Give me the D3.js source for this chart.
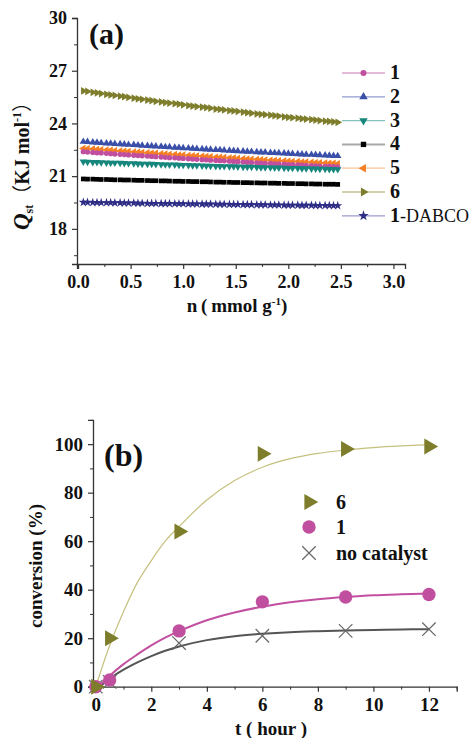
<!DOCTYPE html>
<html><head><meta charset="utf-8">
<script src="https://cdnjs.cloudflare.com/ajax/libs/d3/7.8.5/d3.min.js"></script>
<style>
html,body{margin:0;padding:0;background:#fff;}
svg, svg text{font-family:"Liberation Serif","DejaVu Serif","Times New Roman",Times,serif;}
</style></head>
<body><svg id="c" width="471" height="738"></svg>
<script>
// ---------- Panel (a) data ----------
const nValues = [0.05,0.09,0.14,0.18,0.22,0.27,0.31,0.35,0.40,0.44,0.48,0.53,0.57,0.61,0.66,0.70,0.74,0.79,0.83,0.87,0.92,0.96,1.00,1.05,1.09,1.13,1.18,1.22,1.26,1.31,1.35,1.39,1.44,1.48,1.52,1.57,1.61,1.65,1.70,1.74,1.78,1.83,1.87,1.91,1.96,2.00,2.04,2.09,2.13,2.17,2.22,2.26,2.30,2.35,2.39,2.43,2.47];
const qst1 = [22.39,22.37,22.35,22.33,22.32,22.30,22.28,22.26,22.24,22.23,22.21,22.19,22.17,22.16,22.14,22.12,22.11,22.09,22.07,22.05,22.04,22.02,22.01,21.99,21.97,21.96,21.94,21.93,21.91,21.89,21.88,21.87,21.85,21.84,21.82,21.80,21.79,21.77,21.76,21.74,21.73,21.72,21.70,21.69,21.68,21.66,21.65,21.64,21.62,21.61,21.60,21.58,21.57,21.56,21.55,21.54,21.52];
const qst2 = [22.96,22.95,22.92,22.91,22.89,22.87,22.86,22.84,22.82,22.81,22.79,22.78,22.76,22.74,22.72,22.71,22.70,22.68,22.66,22.65,22.63,22.62,22.60,22.59,22.57,22.56,22.54,22.53,22.51,22.50,22.49,22.47,22.45,22.44,22.43,22.41,22.40,22.39,22.37,22.36,22.35,22.33,22.32,22.31,22.30,22.28,22.27,22.26,22.24,22.23,22.22,22.21,22.20,22.18,22.17,22.16,22.15];
const qst3 = [21.82,21.81,21.80,21.79,21.78,21.77,21.76,21.76,21.75,21.74,21.73,21.72,21.71,21.70,21.69,21.69,21.68,21.67,21.66,21.65,21.65,21.64,21.63,21.62,21.61,21.61,21.60,21.59,21.58,21.57,21.57,21.56,21.55,21.55,21.54,21.53,21.52,21.52,21.51,21.50,21.50,21.49,21.48,21.48,21.47,21.46,21.46,21.45,21.44,21.44,21.43,21.42,21.41,21.41,21.40,21.40,21.39];
const qst4 = [20.84,20.83,20.83,20.82,20.81,20.81,20.80,20.79,20.79,20.78,20.78,20.77,20.76,20.76,20.75,20.74,20.74,20.73,20.73,20.72,20.71,20.71,20.70,20.70,20.69,20.69,20.68,20.68,20.67,20.66,20.66,20.65,20.65,20.64,20.64,20.63,20.63,20.62,20.62,20.61,20.61,20.60,20.60,20.59,20.59,20.58,20.58,20.57,20.57,20.56,20.56,20.55,20.55,20.54,20.54,20.54,20.53];
const qst5 = [22.58,22.56,22.54,22.52,22.51,22.49,22.47,22.45,22.43,22.42,22.40,22.38,22.36,22.35,22.33,22.31,22.30,22.28,22.26,22.24,22.23,22.21,22.20,22.18,22.16,22.15,22.13,22.12,22.10,22.08,22.07,22.06,22.04,22.03,22.01,21.99,21.98,21.96,21.95,21.93,21.92,21.91,21.89,21.88,21.87,21.85,21.84,21.83,21.81,21.80,21.79,21.77,21.76,21.75,21.74,21.73,21.71];
const qst6 = [25.85,25.82,25.77,25.74,25.70,25.66,25.62,25.59,25.55,25.52,25.48,25.44,25.40,25.37,25.33,25.30,25.26,25.22,25.19,25.16,25.13,25.10,25.06,25.02,24.99,24.96,24.93,24.90,24.87,24.82,24.80,24.77,24.73,24.71,24.68,24.65,24.61,24.58,24.55,24.52,24.50,24.47,24.44,24.42,24.38,24.35,24.33,24.30,24.27,24.25,24.22,24.19,24.16,24.13,24.11,24.09,24.06];
const qstDabco = [19.51,19.51,19.50,19.50,19.49,19.49,19.49,19.48,19.48,19.47,19.47,19.47,19.46,19.46,19.45,19.45,19.45,19.44,19.44,19.44,19.43,19.43,19.43,19.42,19.42,19.42,19.41,19.41,19.41,19.40,19.40,19.40,19.39,19.39,19.39,19.38,19.38,19.38,19.37,19.37,19.37,19.36,19.36,19.36,19.35,19.35,19.35,19.35,19.34,19.34,19.34,19.33,19.33,19.33,19.33,19.32,19.32];
const seriesNamesA = ["1","2","3","4","5","6","1-DABCO"];
const xTicksA = [0,0.5,1.0,1.5,2.0,2.5,3.0];
const yTicksA = [18,21,24,27,30];

// ---------- Panel (b) data ----------
const timeB = [0,0.5,3,6,9,12];
const conv6 = [0,20,64,96,98,99];
const conv1 = [0,2.8,23,35,37,38];
const convNone = [0,2,18,21,23,23.7];
const fitT6 = [0,0.5,1,1.5,2,2.5,3,4,5,6,7,8,9,10,11,12];
const fit6 = [0,17,31,43,52,60,66,77,85,90.5,94,96.2,97.6,98.6,99.3,99.8];
const fitT1 = [0.1,0.5,1,1.5,2,2.5,3,4,5,6,7,8,9,10,11,12];
const fit1 = [0,4.5,9.3,13.3,17,20.2,22.9,27.4,30.6,33.0,34.8,36.1,37.0,37.7,38.1,38.4];
const fitTNone = [0.15,0.5,1,1.5,2,2.5,3,4,5,6,7,8,9,10,11,12];
const fitNone = [0,3.3,7.0,10.0,12.6,14.8,16.6,19.2,20.8,21.8,22.5,22.9,23.2,23.4,23.6,23.7];
const seriesNamesB = ["6","1","no catalyst"];
const xTicksB = [0,2,4,6,8,10,12];
const yTicksB = [0,20,40,60,80,100];

const FONT = '"Liberation Serif","DejaVu Serif","Times New Roman",Times,serif';
const CJK = '"Noto Sans CJK SC","Liberation Serif",serif';
const svg = d3.select("#c");
const axisColor = "#333";

function styleAxis(g){
  g.selectAll("path.domain").attr("stroke",axisColor).attr("stroke-width",1.3);
  g.selectAll(".tick line").attr("stroke",axisColor).attr("stroke-width",1.2);
  g.selectAll(".tick text").attr("fill","#111").attr("font-weight","bold")
    .attr("font-family",FONT);
}
function txt(parent){
  return parent.append("text").attr("font-family",FONT).attr("fill","#111");
}

// ================= Panel (a) =================
const xA = d3.scaleLinear().domain([-0.01,3.11]).range([77,405]);
const yA = d3.scaleLinear().domain([16,30]).range([264,18]);

const gxA = svg.append("g").attr("transform","translate(0,264)")
  .call(d3.axisBottom(xA).tickValues(xTicksA).tickFormat(d3.format(".1f")).tickSizeOuter(0).tickSize(5).tickPadding(6));
gxA.call(styleAxis); gxA.selectAll(".tick text").attr("font-size",18);
svg.append("g").attr("transform","translate(0,264)")
  .call(d3.axisBottom(xA).tickValues(d3.range(0.25,3.1,0.5)).tickFormat("").tickSizeOuter(0).tickSize(3))
  .call(g=>{g.select(".domain").remove(); g.selectAll("line").attr("stroke",axisColor);});
const gyA = svg.append("g").attr("transform","translate(77,0)")
  .call(d3.axisLeft(yA).tickValues(yTicksA).tickSizeOuter(0).tickSize(5).tickPadding(5));
gyA.call(styleAxis); gyA.selectAll(".tick text").attr("font-size",18);
svg.append("g").attr("transform","translate(77,0)")
  .call(d3.axisLeft(yA).tickValues([16.5,19.5,22.5,25.5,28.5]).tickFormat("").tickSizeOuter(0).tickSize(3))
  .call(g=>{g.select(".domain").remove(); g.selectAll("line").attr("stroke",axisColor);});

const seriesA = [
  {name:seriesNamesA[0], vals:qst1, color:"#c0509f", line:"#dba6cc", shape:"circle", size:22},
  {name:seriesNamesA[1], vals:qst2, color:"#3a4fa8", line:"#8f9bd0", shape:"up", size:24},
  {name:seriesNamesA[2], vals:qst3, color:"#17877d", line:"#86c0ba", shape:"down", size:24},
  {name:seriesNamesA[3], vals:qst4, color:"#000000", line:"#a8a8a8", shape:"square", size:22},
  {name:seriesNamesA[4], vals:qst5, color:"#f57f22", line:"#f8c497", shape:"left", size:24},
  {name:seriesNamesA[5], vals:qst6, color:"#7d7d2b", line:"#c4c38e", shape:"right", size:26},
  {name:seriesNamesA[6], vals:qstDabco, color:"#2e2d86", line:"#9b9ad0", shape:"star", size:26}
];

function markerPath(shape,size){
  if(shape==="circle") return d3.symbol(d3.symbolCircle,size)();
  if(shape==="square") return d3.symbol(d3.symbolSquare,size)();
  if(shape==="star") return d3.symbol(d3.symbolStar,size)();
  return d3.symbol(d3.symbolTriangle,size)();
}
function rot(shape){
  return {up:0,down:180,left:-90,right:90}[shape]||0;
}

const plotOrder = [5,1,4,0,2,3,6];
plotOrder.forEach(i=>{
  const s = seriesA[i];
  const pts = nValues.map((n,j)=>[n,s.vals[j]]);
  svg.append("path").datum(pts)
    .attr("d",d3.line().x(d=>xA(d[0])).y(d=>yA(d[1])))
    .attr("fill","none").attr("stroke",s.line).attr("stroke-width",1);
  svg.append("g").selectAll("path").data(pts).join("path")
    .attr("d",markerPath(s.shape,s.size))
    .attr("transform",d=>`translate(${xA(d[0])},${yA(d[1])}) rotate(${rot(s.shape)})`)
    .attr("fill",s.color);
});

// legend (a)
const legA = svg.append("g");
seriesA.forEach((s,i)=>{
  const y = 73 + i*23.8;
  legA.append("line").attr("x1",342).attr("x2",385).attr("y1",y).attr("y2",y)
    .attr("stroke",s.line).attr("stroke-width",s.shape==="square"?2:1.3);
  legA.append("path").attr("d",markerPath(s.shape,s.size*1.3))
    .attr("transform",`translate(363.5,${y}) rotate(${rot(s.shape)})`).attr("fill",s.color);
  const t = txt(legA).attr("x",390).attr("y",y+6).attr("font-size",20);
  if(s.name.indexOf("-")>0){
    const parts = s.name.split("-");
    t.append("tspan").attr("font-weight","bold").text(parts[0]);
    t.append("tspan").attr("font-weight","normal").attr("font-size",18).text("-"+parts[1]);
  } else t.attr("font-weight","bold").text(s.name);
});

txt(svg).attr("x",89).attr("y",44).attr("font-size",30).attr("font-weight","bold").text("(a)");

// axis titles (a)
const xtA = txt(svg).attr("x",237).attr("y",312).attr("text-anchor","middle")
  .attr("font-size",19).attr("font-weight","bold");
xtA.append("tspan").text("n\u2009(\u2009mmol g");
xtA.append("tspan").attr("dy",-7).attr("font-size",11).text("-1");
xtA.append("tspan").attr("dy",7).text(")");

const ytA = txt(svg).attr("transform","translate(29,161) rotate(-90)").attr("text-anchor","middle")
  .attr("font-size",20).attr("font-weight","bold");
ytA.append("tspan").attr("font-style","italic").attr("font-size",23).text("Q");
ytA.append("tspan").attr("dy",4).attr("font-size",12).text("st");
ytA.append("tspan").attr("dy",-4).attr("font-family",CJK).attr("font-weight","normal").text("\uFF08");
ytA.append("tspan").text("KJ mol");
ytA.append("tspan").attr("dy",-8).attr("font-size",12).text("-1");
ytA.append("tspan").attr("dy",8).attr("font-family",CJK).attr("font-weight","normal").text("\uFF09");

// ================= Panel (b) =================
const xB = d3.scaleLinear().domain([-0.1,13]).range([93,456.7]);
const yB = d3.scaleLinear().domain([0,110]).range([686.7,419.9]);

const gxB = svg.append("g").attr("transform","translate(0,686.7)")
  .call(d3.axisBottom(xB).tickValues(xTicksB).tickFormat(d3.format("d")).tickSizeOuter(0).tickSize(5).tickPadding(6));
gxB.call(styleAxis); gxB.selectAll(".tick text").attr("font-size",19);
svg.append("g").attr("transform","translate(0,686.7)")
  .call(d3.axisBottom(xB).tickValues([1,3,5,7,9,11,13]).tickFormat("").tickSizeOuter(0).tickSize(3))
  .call(g=>{g.select(".domain").remove(); g.selectAll("line").attr("stroke",axisColor);});
const gyB = svg.append("g").attr("transform","translate(93,0)")
  .call(d3.axisLeft(yB).tickValues(yTicksB).tickSizeOuter(0).tickSize(5).tickPadding(5));
gyB.call(styleAxis); gyB.selectAll(".tick text").attr("font-size",19);
svg.append("g").attr("transform","translate(93,0)")
  .call(d3.axisLeft(yB).tickValues([10,30,50,70,90,110]).tickFormat("").tickSizeOuter(0).tickSize(3))
  .call(g=>{g.select(".domain").remove(); g.selectAll("line").attr("stroke",axisColor);});

const lineB = d3.line().x(d=>xB(d[0])).y(d=>yB(d[1])).curve(d3.curveCatmullRom.alpha(0.5));
svg.append("path").datum(fitT6.map((t,i)=>[t,fit6[i]])).attr("d",lineB)
  .attr("fill","none").attr("stroke","#c5c07e").attr("stroke-width",1.2);
svg.append("path").datum(fitTNone.map((t,i)=>[t,fitNone[i]])).attr("d",lineB)
  .attr("fill","none").attr("stroke","#555").attr("stroke-width",2);
svg.append("path").datum(fitT1.map((t,i)=>[t,fit1[i]])).attr("d",lineB)
  .attr("fill","none").attr("stroke","#c24fa0").attr("stroke-width",2);

const olive = "#7d7d2b", magenta="#c0509f", xgray="#666";
const triR = d3.symbol(d3.symbolTriangle,110)();
const circ = d3.symbol(d3.symbolCircle,140)();
const xMark = d3.symbol(d3.symbolTimes,120)();

svg.append("g").selectAll("path").data(timeB.map((t,i)=>[t,convNone[i]])).join("path")
  .attr("d",xMark).attr("transform",d=>`translate(${xB(d[0])},${yB(d[1])})`)
  .attr("fill","none").attr("stroke",xgray).attr("stroke-width",1.2);
svg.append("g").selectAll("path").data(timeB.map((t,i)=>[t,conv1[i]])).join("path")
  .attr("d",circ).attr("transform",d=>`translate(${xB(d[0])},${yB(d[1])})`).attr("fill",magenta);
svg.append("g").selectAll("path").data(timeB.map((t,i)=>[t,conv6[i]])).join("path")
  .attr("d",triR).attr("transform",d=>`translate(${xB(d[0])},${yB(d[1])}) rotate(90)`).attr("fill",olive);

// legend (b)
const legB = svg.append("g");
const legMarks = [
  g=>g.append("path").attr("d",triR).attr("transform","translate(309,502) rotate(90)").attr("fill",olive),
  g=>g.append("path").attr("d",circ).attr("transform","translate(309,527)").attr("fill",magenta),
  g=>g.append("path").attr("d",xMark).attr("transform","translate(309,553)").attr("fill","none").attr("stroke",xgray).attr("stroke-width",1.2)
];
seriesNamesB.forEach((nm,i)=>{
  legMarks[i](legB);
  txt(legB).attr("x",336).attr("y",[509,534,560][i]).attr("font-size",20)
    .attr("font-weight","bold").text(nm);
});

txt(svg).attr("x",104).attr("y",466).attr("font-size",32).attr("font-weight","bold").text("(b)");

txt(svg).attr("x",271).attr("y",735).attr("text-anchor","middle")
  .attr("font-size",19).attr("font-weight","bold").text("t ( hour )");
txt(svg).attr("transform","translate(42,566) rotate(-90)").attr("text-anchor","middle")
  .attr("font-size",19).attr("font-weight","bold").text("conversion (%)");
</script></body></html>
